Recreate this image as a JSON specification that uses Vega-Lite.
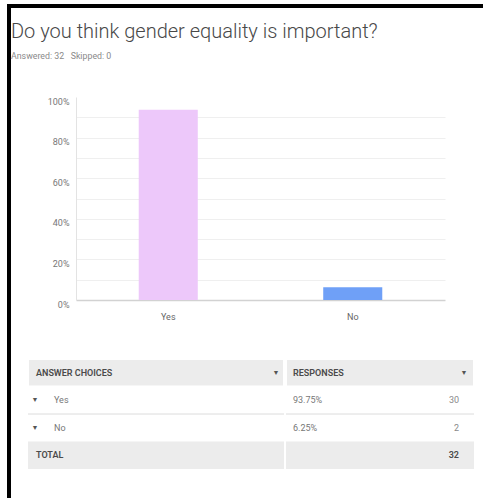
{
  "$schema": "https://vega.github.io/schema/vega-lite/v6.json",
  "background": "white",
  "padding": {"left": 7, "top": 4, "right": 0, "bottom": 0},
  "config": {"view": {"stroke": null}, "font": "Roboto", "concat": {"spacing": 0}},
  "datasets": {
    "answers": [
      {"answer": "Yes", "share": 0.9375, "responses": 30},
      {"answer": "No", "share": 0.0625, "responses": 2}
    ],
    "table": [
      {"row": "header", "choice": "ANSWER CHOICES", "response": "RESPONSES"},
      {"row": "Yes", "choice": "Yes", "share": 0.9375, "count": 30},
      {"row": "No", "choice": "No", "share": 0.0625, "count": 2},
      {"row": "total", "choice": "TOTAL", "count": 32}
    ],
    "frame": [{"edge": "frame"}],
    "blank": []
  },
  "hconcat": [
    {
      "width": 4, "height": 494,
      "data": {"name": "frame"},
      "mark": {"type": "rect", "color": "black"},
      "encoding": {}
    },
    {
      "spacing": 14,
      "vconcat": [
        {
          "width": 472, "height": 4,
          "data": {"name": "frame"},
          "mark": {"type": "rect", "color": "black"},
          "encoding": {}
        },
        {
          "title": {
            "text": "Do you think gender equality is important?",
            "subtitle": "Answered: 32\u00a0\u00a0\u00a0Skipped: 0",
            "anchor": "start",
            "frame": "group",
            "font": "Roboto",
            "fontSize": 20,
            "fontWeight": 300,
            "color": "#484848",
            "subtitleFont": "Roboto",
            "subtitleFontSize": 8.8,
            "subtitleColor": "#8a8a8a",
            "subtitlePadding": 10,
            "offset": 36
          },
          "spacing": 37,
          "vconcat": [
            {
              "spacing": 0,
              "hconcat": [
                {"width": 16, "height": 1, "data": {"name": "blank"}, "mark": "point", "encoding": {}},
                {
                  "width": 369, "height": 203,
                  "data": {"name": "answers"},
                  "mark": {"type": "bar"},
                  "encoding": {
                    "x": {
                      "field": "answer", "type": "nominal", "sort": ["Yes", "No"],
                      "scale": {"paddingInner": 0.68, "paddingOuter": 0.34},
                      "axis": {"title": null, "labelAngle": 0, "ticks": false, "labelPadding": 12, "labelFontSize": 9, "labelColor": "#666", "domainColor": "#d2d2d2", "domainWidth": 1.5}
                    },
                    "y": {
                      "field": "share", "type": "quantitative",
                      "scale": {"domain": [0, 1]},
                      "axis": {
                        "title": null,
                        "values": [0, 0.1, 0.2, 0.3, 0.4, 0.5, 0.6, 0.7, 0.8, 0.9, 1],
                        "format": ".0%",
                        "labelExpr": "round(datum.value * 100) % 20 == 0 ? datum.label : ''",
                        "ticks": false,
                        "domainColor": "#e3e3e3",
                        "gridColor": {"condition": {"test": "datum.value >= 1 || datum.value <= 0", "value": "transparent"}, "value": "#efefef"},
                        "labelFontSize": 9,
                        "labelColor": "#777",
                        "labelPadding": 7,
                        "labelOffset": 4,
                        "minExtent": 49,
                        "maxExtent": 49
                      }
                    },
                    "color": {
                      "field": "answer", "type": "nominal",
                      "scale": {"domain": ["Yes", "No"], "range": ["#EDC8FA", "#6FA0F7"]},
                      "legend": null
                    }
                  }
                }
              ]
            },
            {
              "spacing": 0,
              "hconcat": [
                {"width": 16, "height": 1, "data": {"name": "blank"}, "mark": "point", "encoding": {}},
                {
                  "spacing": 0,
                  "hconcat": [
                    {
                      "width": 256, "height": 110,
                      "data": {"name": "table"},
                      "encoding": {
                        "y": {"field": "row", "type": "nominal", "scale": {"type": "band", "domain": ["header", "Yes", "No", "total"], "paddingInner": 0, "paddingOuter": 0}, "axis": null}
                      },
                      "layer": [
                        {
                          "transform": [{"filter": "datum.row == 'header'"}],
                          "mark": {"type": "rect", "color": "#ececec", "stroke": "white", "strokeWidth": 2}
                        },
                        {
                          "transform": [{"filter": "datum.row == 'total'"}],
                          "mark": {"type": "rect", "color": "#ececec"}
                        },
                        {
                          "transform": [{"filter": "datum.row == 'Yes'"}],
                          "mark": {"type": "rule", "color": "#dcdcdc", "strokeWidth": 1},
                          "encoding": {"y": {"field": "row", "type": "nominal", "bandPosition": 1}}
                        },
                        {
                          "transform": [{"filter": "datum.row == 'header' || datum.row == 'total'"}],
                          "mark": {"type": "text", "align": "left", "fontSize": 9, "fontWeight": 600, "color": "#4a4a4a", "dx": 8},
                          "encoding": {
                            "x": {"datum": "Answer choices", "type": "nominal", "bandPosition": 0, "scale": {"type": "band", "paddingInner": 0, "paddingOuter": 0}, "axis": null},
                            "text": {"field": "choice"}
                          }
                        },
                        {
                          "transform": [{"filter": "datum.row == 'header'"}],
                          "mark": {"type": "text", "align": "center", "fontSize": 7, "color": "#555", "dx": -8},
                          "encoding": {
                            "x": {"datum": "Answer choices", "type": "nominal", "bandPosition": 1},
                            "text": {"value": "▼"}
                          }
                        },
                        {
                          "transform": [{"filter": "datum.row == 'Yes' || datum.row == 'No'"}],
                          "mark": {"type": "text", "align": "center", "fontSize": 7, "color": "#555", "dx": 7},
                          "encoding": {
                            "x": {"datum": "Answer choices", "type": "nominal", "bandPosition": 0},
                            "text": {"value": "▼"}
                          }
                        },
                        {
                          "transform": [{"filter": "datum.row == 'Yes' || datum.row == 'No'"}],
                          "mark": {"type": "text", "align": "left", "fontSize": 9, "color": "#777", "dx": 26},
                          "encoding": {
                            "x": {"datum": "Answer choices", "type": "nominal", "bandPosition": 0},
                            "text": {"field": "choice"}
                          }
                        }
                      ]
                    },
                    {
                      "width": 188, "height": 110,
                      "data": {"name": "table"},
                      "encoding": {
                        "y": {"field": "row", "type": "nominal", "scale": {"type": "band", "domain": ["header", "Yes", "No", "total"], "paddingInner": 0, "paddingOuter": 0}, "axis": null}
                      },
                      "layer": [
                        {
                          "transform": [{"filter": "datum.row == 'header'"}],
                          "mark": {"type": "rect", "color": "#ececec", "stroke": "white", "strokeWidth": 2}
                        },
                        {
                          "transform": [{"filter": "datum.row == 'total'"}],
                          "mark": {"type": "rect", "color": "#ececec"}
                        },
                        {
                          "transform": [{"filter": "datum.row == 'Yes'"}],
                          "mark": {"type": "rule", "color": "#dcdcdc", "strokeWidth": 1},
                          "encoding": {"y": {"field": "row", "type": "nominal", "bandPosition": 1}}
                        },
                        {
                          "transform": [{"filter": "datum.row == 'header'"}],
                          "mark": {"type": "text", "align": "left", "fontSize": 9, "fontWeight": 600, "color": "#4a4a4a", "dx": 7},
                          "encoding": {
                            "x": {"datum": "Percent", "type": "nominal", "bandPosition": 0, "scale": {"type": "band", "domain": ["Percent", "Count"], "paddingInner": 0, "paddingOuter": 0}, "axis": null},
                            "text": {"field": "response"}
                          }
                        },
                        {
                          "transform": [{"filter": "datum.row == 'header'"}],
                          "mark": {"type": "text", "align": "center", "fontSize": 7, "color": "#555", "dx": -10},
                          "encoding": {
                            "x": {"datum": "Count", "type": "nominal", "bandPosition": 1},
                            "text": {"value": "▼"}
                          }
                        },
                        {
                          "transform": [{"filter": "isValid(datum.share)"}],
                          "mark": {"type": "text", "align": "left", "fontSize": 9, "color": "#777", "dx": 7},
                          "encoding": {
                            "x": {"datum": "Percent", "type": "nominal", "bandPosition": 0},
                            "text": {"field": "share", "type": "quantitative", "format": ".2%"}
                          }
                        },
                        {
                          "transform": [{"filter": "datum.row == 'Yes' || datum.row == 'No'"}],
                          "mark": {"type": "text", "align": "right", "fontSize": 9, "color": "#8a8a8a", "dx": -15},
                          "encoding": {
                            "x": {"datum": "Count", "type": "nominal", "bandPosition": 1},
                            "text": {"field": "count", "type": "quantitative"}
                          }
                        },
                        {
                          "transform": [{"filter": "datum.row == 'total'"}],
                          "mark": {"type": "text", "align": "right", "fontSize": 9, "fontWeight": 600, "color": "#4a4a4a", "dx": -15},
                          "encoding": {
                            "x": {"datum": "Count", "type": "nominal", "bandPosition": 1},
                            "text": {"field": "count", "type": "quantitative"}
                          }
                        }
                      ]
                    }
                  ]
                }
              ]
            }
          ]
        }
      ]
    }
  ]
}
